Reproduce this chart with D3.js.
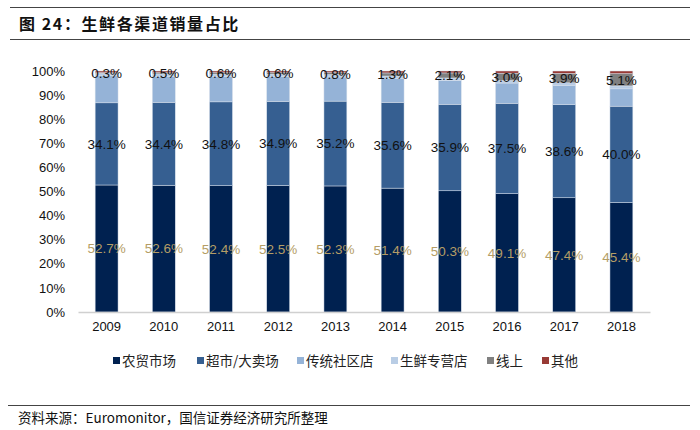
<!DOCTYPE html>
<html>
<head>
<meta charset="utf-8">
<script src="https://cdn.jsdelivr.net/npm/d3@7/dist/d3.min.js"></script>
<style>
  body { margin: 0; background: #fff; }
  svg { display: block; }
</style>
</head>
<body>
<div id="chart"></div>
<script>
// data (percent of sales)
var years = ["2009","2010","2011","2012","2013","2014","2015","2016","2017","2018"];
var channels = ["农贸市场","超市/大卖场","传统社区店","生鲜专营店","线上","其他"];
var farmMarket  = [52.7, 52.6, 52.4, 52.5, 52.3, 51.4, 50.3, 49.1, 47.4, 45.4];
var supermarket = [34.1, 34.4, 34.8, 34.9, 35.2, 35.6, 35.9, 37.5, 38.6, 40.0];
var communityStore = [11.2, 10.8, 10.5, 10.3, 10.0, 9.9, 9.8, 8.4, 7.9, 7.2];
var freshStore  = [1.0, 1.0, 1.0, 1.0, 1.0, 1.0, 1.1, 1.1, 1.2, 1.2];
var online      = [0.3, 0.5, 0.6, 0.6, 0.8, 1.3, 2.1, 3.0, 3.9, 5.1];
var other       = [0.7, 0.7, 0.7, 0.7, 0.7, 0.8, 0.8, 0.9, 1.0, 1.1];
var yTicks = [0, 10, 20, 30, 40, 50, 60, 70, 80, 90, 100];

var colors = ["#002150", "#365F91", "#95B3D7", "#B9CDE5", "#808080", "#983A35"];
// which series get value labels, and their colour
var labelColor = {"农贸市场": "#B49D66", "超市/大卖场": "#111", "线上": "#111"};

var width = 700, height = 430;
var margin = {top: 71, left: 78, right: 50, bottom: 118};

// build table for d3.stack
var series = [farmMarket, supermarket, communityStore, freshStore, online, other];
var table = years.map(function(y, i) {
  var row = {year: y};
  channels.forEach(function(c, j) { row[c] = series[j][i]; });
  return row;
});

var svg = d3.select("#chart").append("svg")
  .attr("width", width)
  .attr("height", height);

var x = d3.scaleBand()
  .domain(years)
  .range([margin.left, width - margin.right])
  .paddingInner(0.6)
  .paddingOuter(0.3);

var y = d3.scaleLinear()
  .domain([0, 100])
  .range([height - margin.bottom, margin.top]);

var stacked = d3.stack().keys(channels)(table);

// title + rules
svg.append("line").attr("x1", 10).attr("x2", 690).attr("y1", 7.5).attr("y2", 7.5)
  .attr("stroke", "#444").attr("stroke-width", 1.2);
svg.append("line").attr("x1", 10).attr("x2", 690).attr("y1", 39.5).attr("y2", 39.5)
  .attr("stroke", "#444").attr("stroke-width", 1.2);
svg.append("text")
  .attr("x", 19).attr("y", 30)
  .style("font-family", "'Noto Sans CJK SC', sans-serif")
  .style("font-size", "16px")
  .style("font-weight", "bold")
  .style("letter-spacing", "1.6px")
  .attr("fill", "#111")
  .text("图 24：生鲜各渠道销量占比");

// bars
var layers = svg.selectAll("g.layer")
  .data(stacked)
  .enter().append("g")
    .attr("class", "layer")
    .attr("fill", function(d, i) { return colors[i]; });

layers.selectAll("rect")
  .data(function(d) { return d; })
  .enter().append("rect")
    .attr("x", function(d) { return x(d.data.year); })
    .attr("y", function(d) { return y(d[1]); })
    .attr("width", x.bandwidth())
    .attr("height", function(d) { return y(d[0]) - y(d[1]); })
    .attr("stroke", "#D5DEEA")
    .attr("stroke-width", 0.5);

// value labels
stacked.forEach(function(layer) {
  if (!labelColor[layer.key]) return;
  svg.append("g").selectAll("text")
    .data(layer)
    .enter().append("text")
      .attr("x", function(d) { return x(d.data.year) + x.bandwidth() / 2; })
      .attr("y", function(d) { return y((d[0] + d[1]) / 2); })
      .attr("dy", "0.36em")
      .attr("text-anchor", "middle")
      .style("font-family", "'Liberation Sans', Arial, sans-serif")
      .style("font-size", "13.5px")
      .attr("fill", labelColor[layer.key])
      .text(function(d) { return d.data[layer.key].toFixed(1) + "%"; });
});

// y axis (labels only)
var yAxis = svg.append("g")
  .attr("transform", "translate(" + (margin.left - 10) + ",0)")
  .call(d3.axisLeft(y).tickValues(yTicks).tickSize(0).tickFormat(function(d) { return d + "%"; }));
yAxis.select(".domain").remove();
yAxis.selectAll("text")
  .style("font-family", "'Liberation Sans', Arial, sans-serif")
  .style("font-size", "13px")
  .attr("fill", "#111");

// x axis
var xAxis = svg.append("g")
  .attr("transform", "translate(0," + (height - margin.bottom) + ")")
  .call(d3.axisBottom(x).tickSize(0).tickPadding(10));
xAxis.select(".domain").attr("stroke", "#D0D0D0").attr("stroke-width", 1.5);
xAxis.selectAll("text")
  .style("font-family", "'Liberation Sans', Arial, sans-serif")
  .style("font-size", "13px")
  .attr("fill", "#111");

// legend
var legendX = [113, 197, 297, 391, 487, 542];
var legend = svg.append("g");
channels.forEach(function(c, i) {
  var g = legend.append("g").attr("transform", "translate(" + legendX[i] + ",361)");
  g.append("rect").attr("x", 0).attr("y", -4).attr("width", 7).attr("height", 7).attr("fill", colors[i]);
  g.append("text")
    .attr("x", 9).attr("y", 0).attr("dy", "0.35em")
    .style("font-family", "'Noto Sans CJK SC', sans-serif")
    .style("font-size", "13.5px")
    .attr("fill", "#222")
    .text(c);
});

// footer
svg.append("line").attr("x1", 8).attr("x2", 690).attr("y1", 405.5).attr("y2", 405.5)
  .attr("stroke", "#444").attr("stroke-width", 1);
svg.append("text")
  .attr("x", 18).attr("y", 423)
  .style("font-family", "'Noto Sans CJK SC', sans-serif")
  .style("font-size", "13.5px")
  .attr("fill", "#111")
  .text("资料来源：Euromonitor，国信证券经济研究所整理");
</script>
</body>
</html>
